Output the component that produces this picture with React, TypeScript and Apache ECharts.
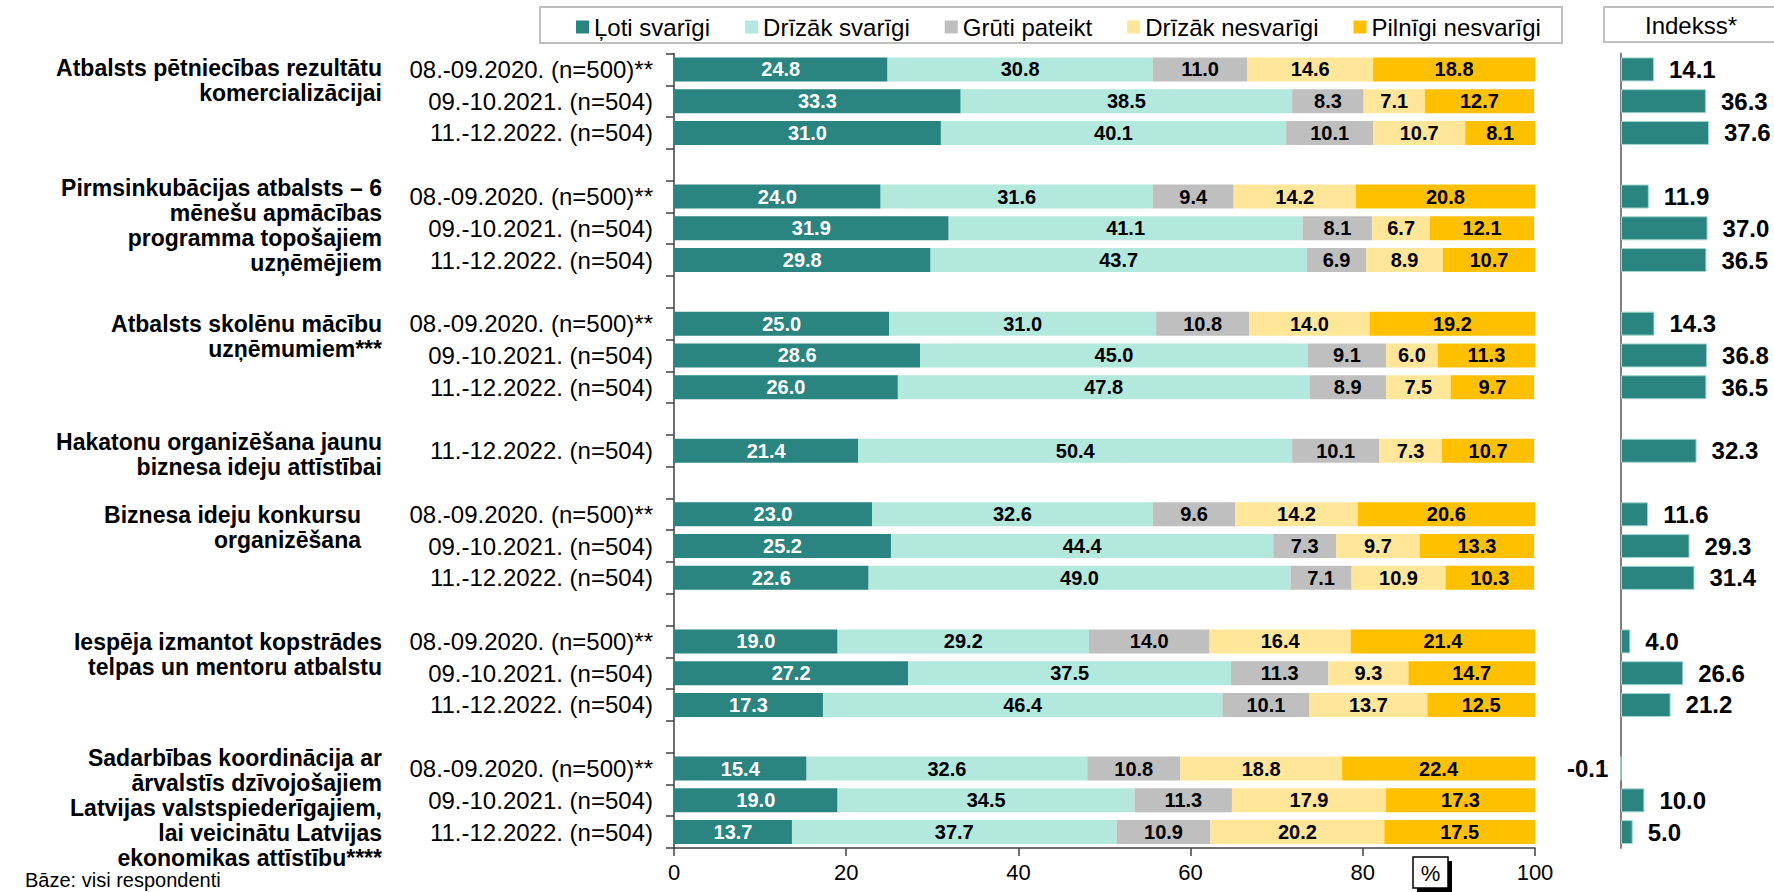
import React, { useEffect, useRef } from "react";
import * as echarts from "echarts";

const FONT = "'Liberation Sans', Arial, Helvetica, sans-serif";

const seriesNames = ["Ļoti svarīgi", "Drīzāk svarīgi", "Grūti pateikt", "Drīzāk nesvarīgi", "Pilnīgi nesvarīgi"];
const seriesColors = ["#2a8480", "#b3e8dc", "#bfbfbf", "#ffe699", "#ffc000"];
const labelColors = ["#ffffff", "#000000", "#000000", "#000000", "#000000"];

const rowLabels = [
  "08.-09.2020. (n=500)**", "09.-10.2021. (n=504)", "11.-12.2022. (n=504)", "",
  "08.-09.2020. (n=500)**", "09.-10.2021. (n=504)", "11.-12.2022. (n=504)", "",
  "08.-09.2020. (n=500)**", "09.-10.2021. (n=504)", "11.-12.2022. (n=504)", "",
  "11.-12.2022. (n=504)", "",
  "08.-09.2020. (n=500)**", "09.-10.2021. (n=504)", "11.-12.2022. (n=504)", "",
  "08.-09.2020. (n=500)**", "09.-10.2021. (n=504)", "11.-12.2022. (n=504)", "",
  "08.-09.2020. (n=500)**", "09.-10.2021. (n=504)", "11.-12.2022. (n=504)",
];

const veryImportant = [24.8, 33.3, 31.0, null, 24.0, 31.9, 29.8, null, 25.0, 28.6, 26.0, null, 21.4, null, 23.0, 25.2, 22.6, null, 19.0, 27.2, 17.3, null, 15.4, 19.0, 13.7];
const ratherImportant = [30.8, 38.5, 40.1, null, 31.6, 41.1, 43.7, null, 31.0, 45.0, 47.8, null, 50.4, null, 32.6, 44.4, 49.0, null, 29.2, 37.5, 46.4, null, 32.6, 34.5, 37.7];
const hardToSay = [11.0, 8.3, 10.1, null, 9.4, 8.1, 6.9, null, 10.8, 9.1, 8.9, null, 10.1, null, 9.6, 7.3, 7.1, null, 14.0, 11.3, 10.1, null, 10.8, 11.3, 10.9];
const ratherUnimportant = [14.6, 7.1, 10.7, null, 14.2, 6.7, 8.9, null, 14.0, 6.0, 7.5, null, 7.3, null, 14.2, 9.7, 10.9, null, 16.4, 9.3, 13.7, null, 18.8, 17.9, 20.2];
const notImportant = [18.8, 12.7, 8.1, null, 20.8, 12.1, 10.7, null, 19.2, 11.3, 9.7, null, 10.7, null, 20.6, 13.3, 10.3, null, 21.4, 14.7, 12.5, null, 22.4, 17.3, 17.5];
const indexValues = [14.1, 36.3, 37.6, null, 11.9, 37.0, 36.5, null, 14.3, 36.8, 36.5, null, 32.3, null, 11.6, 29.3, 31.4, null, 4.0, 26.6, 21.2, null, -0.1, 10.0, 5.0];

const xTicks = [0, 20, 40, 60, 80, 100];

const groupLabels = [
  ["Atbalsts pētniecības rezultātu", "komercializācijai"],
  ["Pirmsinkubācijas atbalsts – 6", "mēnešu apmācības", "programma topošajiem", "uzņēmējiem"],
  ["Atbalsts skolēnu mācību", "uzņēmumiem***"],
  ["Hakatonu organizēšana jaunu", "biznesa ideju attīstībai"],
  ["Biznesa ideju konkursu", "organizēšana"],
  ["Iespēja izmantot kopstrādes", "telpas un mentoru atbalstu"],
  ["Sadarbības koordinācija ar", "ārvalstīs dzīvojošajiem", "Latvijas valstspiederīgajiem,", "lai veicinātu Latvijas", "ekonomikas attīstību****"],
];
// layout: row position (fractional category index) of each label block's centre, and its right edge
const groupLabelRow = [0.36, 4.91, 8.39, 12.13, 14.42, 18.41, 23.24];
const groupLabelRight = [382, 382, 382, 382, 361, 382, 382];

const indexHeader = "Indekss*";
const unitLabel = "%";
const baseNote = "Bāze: visi respondenti";

const seriesData = [veryImportant, ratherImportant, hardToSay, ratherUnimportant, notImportant];

export default function App() {
  const ref = useRef<HTMLDivElement>(null);

  useEffect(() => {
    if (!ref.current) return;
    const chart = echarts.init(ref.current, null, { renderer: "svg" });

    const GRID_TOP = 53.5;
    const GRID_H = 794.5;

    const barSeries = seriesData.map((arr, i) => ({
      type: "bar",
      name: seriesNames[i],
      stack: "total",
      xAxisIndex: 0,
      yAxisIndex: 0,
      barWidth: 24,
      data: arr,
      itemStyle: { color: seriesColors[i] },
      label: {
        show: true,
        position: "inside",
        color: labelColors[i],
        fontFamily: FONT,
        fontWeight: "bold",
        fontSize: 20,
        formatter: (p: any) => (p.value == null ? "" : Number(p.value).toFixed(1)),
      },
    }));

    const indexSeries = {
      type: "bar",
      name: indexHeader,
      xAxisIndex: 1,
      yAxisIndex: 1,
      barWidth: 24,
      data: indexValues.map((v) =>
        v == null ? null : v < 0 ? { value: v, label: { position: "left", distance: 12 } } : v
      ),
      itemStyle: { color: "#2a8480", borderColor: "#9fd6ce", borderWidth: 1 },
      label: {
        show: true,
        position: "right",
        distance: 15,
        color: "#000",
        fontFamily: FONT,
        fontWeight: "bold",
        fontSize: 24,
        formatter: (p: any) => (p.value == null ? "" : Number(p.value).toFixed(1)),
      },
    };

    chart.setOption({
      animation: false,
      backgroundColor: "#ffffff",
      textStyle: { fontFamily: FONT },
      legend: {
        data: seriesNames,
        left: 576,
        top: 15,
        padding: 0,
        itemWidth: 13,
        itemHeight: 13,
        itemGap: 35,
        icon: "rect",
        textStyle: { fontSize: 24, color: "#000", fontFamily: FONT },
      },
      grid: [
        { left: 674, top: GRID_TOP, width: 861, height: GRID_H },
        { left: 1597.6, top: GRID_TOP, width: 152.1, height: GRID_H },
      ],
      xAxis: [
        {
          type: "value",
          gridIndex: 0,
          min: xTicks[0],
          max: xTicks[xTicks.length - 1],
          interval: 20,
          axisLine: { show: true, lineStyle: { color: "#404040", width: 1.5 } },
          axisTick: { show: true, length: 8, lineStyle: { color: "#404040", width: 1.5 } },
          axisLabel: { fontSize: 22, color: "#000", margin: 13, fontFamily: FONT },
          splitLine: { show: false },
        },
        { type: "value", gridIndex: 1, min: -10, max: 55, show: false, splitLine: { show: false } },
      ],
      yAxis: [
        {
          type: "category",
          gridIndex: 0,
          inverse: true,
          data: rowLabels,
          axisLine: { show: true, lineStyle: { color: "#404040", width: 1.5 } },
          axisTick: { show: true, length: 8, interval: 0, lineStyle: { color: "#404040", width: 1.5 } },
          axisLabel: { interval: 0, fontSize: 24, color: "#000", margin: 21, fontFamily: FONT },
        },
        {
          type: "category",
          gridIndex: 1,
          inverse: true,
          data: rowLabels,
          axisLine: { show: true, onZero: true, lineStyle: { color: "#808080", width: 2 } },
          axisTick: { show: false },
          axisLabel: { show: false },
        },
      ],
      series: [...barSeries, indexSeries],
    });

    const y0 = chart.convertToPixel({ yAxisIndex: 0 }, 0) as number;
    const y1 = chart.convertToPixel({ yAxisIndex: 0 }, 1) as number;
    const step = y1 - y0;

    const graphics: any[] = [
      {
        type: "rect",
        shape: { x: 540, y: 7, width: 1022, height: 36 },
        style: { fill: "none", stroke: "#bfbfbf", lineWidth: 2 },
        silent: true,
      },
      {
        type: "rect",
        shape: { x: 1604, y: 7, width: 200, height: 35 },
        style: { fill: "none", stroke: "#bfbfbf", lineWidth: 2 },
        silent: true,
      },
      {
        type: "text",
        x: 1691,
        y: 25,
        style: { text: indexHeader, fill: "#000", fontSize: 24, fontFamily: FONT, align: "center", verticalAlign: "middle" },
        silent: true,
      },
      {
        type: "rect",
        shape: { x: 1417, y: 861, width: 35, height: 31 },
        style: { fill: "#000" },
        silent: true,
      },
      {
        type: "rect",
        shape: { x: 1413, y: 857, width: 35, height: 31 },
        style: { fill: "#fff", stroke: "#000", lineWidth: 1.5 },
        silent: true,
      },
      {
        type: "text",
        x: 1430.5,
        y: 873,
        style: { text: unitLabel, fill: "#000", fontSize: 22, fontFamily: FONT, align: "center", verticalAlign: "middle" },
        silent: true,
      },
      {
        type: "text",
        x: 25,
        y: 870,
        style: { text: baseNote, fill: "#000", fontSize: 20, fontFamily: FONT, align: "left", verticalAlign: "top" },
        silent: true,
      },
    ];

    groupLabels.forEach((lines, i) => {
      graphics.push({
        type: "text",
        x: groupLabelRight[i],
        y: y0 + groupLabelRow[i] * step,
        style: {
          text: lines.join("\n"),
          fill: "#000",
          fontSize: 23,
          fontWeight: "bold",
          fontFamily: FONT,
          lineHeight: 25,
          align: "right",
          verticalAlign: "middle",
        },
        silent: true,
      });
    });

    chart.setOption({ graphic: graphics });

    return () => chart.dispose();
  }, []);

  return (
    <div
      ref={ref}
      style={{ position: "absolute", left: 0, top: 0, width: 1774, height: 892, background: "#fff" }}
    />
  );
}
